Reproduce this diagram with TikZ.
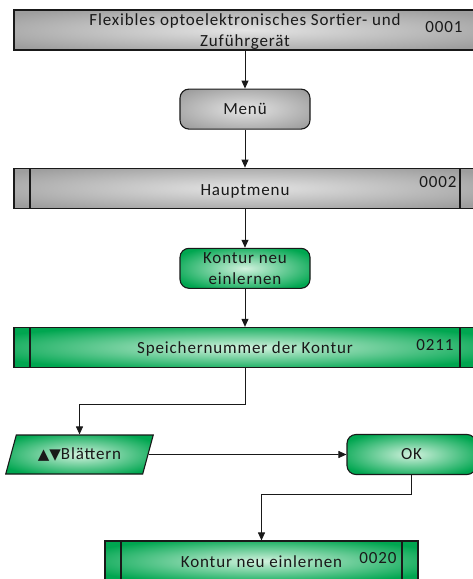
\documentclass[tikz,border=0pt]{standalone}
\usepackage{fontspec}
\setmainfont{Carlito}[LetterSpace=5]
\newfontfamily\symfont{DejaVu Sans}
\usetikzlibrary{positioning,shapes.geometric,arrows.meta,calc}

\definecolor{barGray}{RGB}{158,158,158}
\definecolor{barGrayHi}{RGB}{228,228,228}
\definecolor{barGreen}{RGB}{0,166,80}
\definecolor{barGreenHi}{RGB}{210,242,222}
\definecolor{lineDark}{RGB}{25,25,25}

\pgfdeclareradialshading{grayglow}{\pgfpoint{0bp}{0bp}}{color(0bp)=(barGrayHi); color(32bp)=(barGray); color(50bp)=(barGray)}
\pgfdeclareradialshading{greenglow}{\pgfpoint{0bp}{0bp}}{color(0bp)=(barGreenHi); color(30bp)=(barGreen); color(50bp)=(barGreen)}

\tikzset{
  every node/.style={font=\fontsize{17}{21}\selectfont, text=lineDark},
  arr/.style={-{Triangle[length=8pt,width=7pt]}, line width=0.9pt, draw=lineDark},
  bar/.style={rectangle, draw=lineDark, line width=1.1pt, minimum height=40pt, inner sep=0pt},
  graybar/.style={bar, shading=grayglow},
  greenbar/.style={bar, shading=greenglow},
  subproc/.style={path picture={
    \draw[lineDark, line width=1.1pt] ([xshift=16pt]path picture bounding box.north west) -- ([xshift=16pt]path picture bounding box.south west);
    \draw[lineDark, line width=1.1pt] ([xshift=-16pt]path picture bounding box.north east) -- ([xshift=-16pt]path picture bounding box.south east);}},
  roundbox/.style={rectangle, rounded corners=9pt, draw=lineDark, line width=1.1pt,
    minimum width=130pt, minimum height=40pt, inner sep=0pt, align=center},
  inputbox/.style={trapezium, trapezium left angle=63, trapezium right angle=117,
    trapezium stretches=true, draw=lineDark, line width=1.1pt, shading=greenglow,
    minimum width=149pt, minimum height=39pt, inner sep=0pt},
  code/.style={inner sep=0pt}
}

\begin{document}
\begin{tikzpicture}[x=1pt,y=1pt]
\useasboundingbox (0,0) rectangle (473,-579);
\clip (0,0) rectangle (473,-579);

\node[graybar, minimum width=462pt, align=center, text depth=0pt] (title) at (245,-30)
  {Flexibles optoelektronisches Sortier- und\\Zuführgerät};
\node[roundbox, shading=grayglow, below=38pt of title] (menu) {Menü};
\node[graybar, subproc, minimum width=462pt, text height=15pt, text depth=0pt, below=38pt of menu] (haupt) {Hauptmenu};
\node[roundbox, shading=greenglow, below=39pt of haupt, text depth=0pt] (lernen) {Kontur neu\\einlernen};
\node[greenbar, subproc, minimum width=462pt, text height=13pt, text depth=0pt, below=38pt of lernen] (speicher)
  {Speichernummer der Kontur};

\node[inputbox] (blaettern) at (79.5,-454.5) {{\symfont\fontsize{15}{18}\selectfont ▲▼}Blättern};
\node[roundbox, shading=greenglow, minimum width=129pt] (ok) at (411.5,-454.5) {OK};
\node[greenbar, subproc, minimum width=313pt, text height=13pt, text depth=0pt] (neu) at (261.5,-561) {Kontur neu einlernen};

% numbers
\node[code] (n1) at (444,-27) {0001};
\node[code] (n2) at (438,-182) {0002};
\node[code] (n3) at (435,-345) {0211};
\node[code] (n4) at (378,-558) {0020};

\draw[arr] (title) -- (menu);
\draw[arr] (menu) -- (haupt);
\draw[arr] (haupt) -- (lernen);
\draw[arr] (lernen) -- (speicher);
\draw[arr] (speicher.south) -- ++(0,-36) -| (blaettern.north);
\draw[arr] (blaettern.east) -- (ok.west);
\draw[arr] (ok.south) -- ++(0,-19) -| (neu.north);

\end{tikzpicture}
\end{document}
